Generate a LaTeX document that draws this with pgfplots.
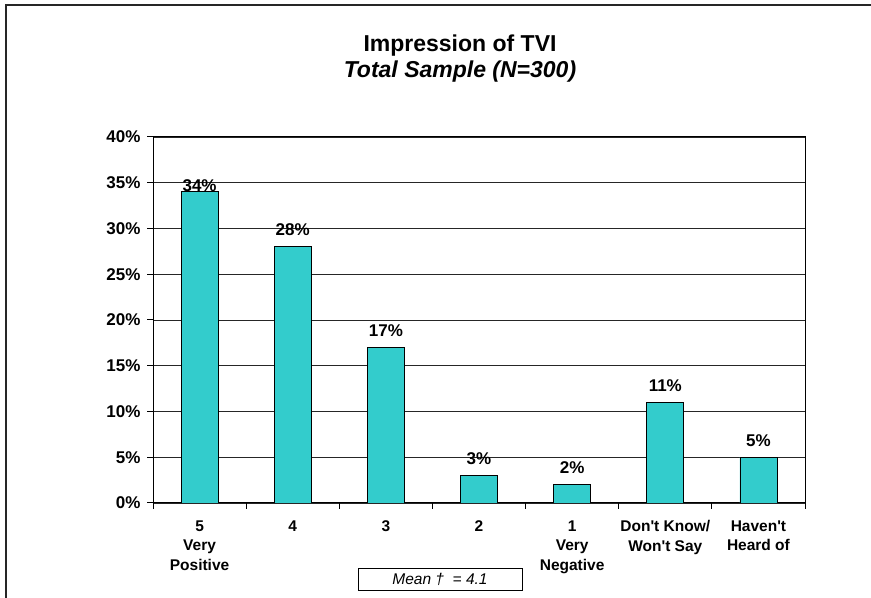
\documentclass[border=0pt]{standalone}
\usepackage{fontspec}
\setmainfont{Liberation Sans}
\usepackage{pgfplots}
\usepackage{pgfplotstable}
\pgfplotsset{compat=1.18}
\definecolor{barcyan}{HTML}{33CCCC}
\newcommand\lab{\fontsize{15.5bp}{19.5bp}\selectfont\bfseries}
\newcommand\pct{\fontsize{17bp}{20bp}\selectfont\bfseries}
\pgfplotstableread{
x y off
1 34 -3.5
2 28 7
3 17 7
4 3 7
5 2 7
6 11 7
7 5 7
}\impression
\begin{document}
\begin{tikzpicture}
\useasboundingbox (0,0) rectangle (871bp,598bp);
\fill[white] (0,0) rectangle (871bp,598bp);
\draw[line width=1.5bp, black!85] (6bp,0) -- (6bp,593bp) -- (871bp,593bp);
\node[anchor=base, inner sep=0pt, font=\fontsize{23bp}{27bp}\selectfont\bfseries] at (460bp,546bp) {Impression of TVI};
\node[anchor=base, inner sep=0pt, font=\fontsize{23bp}{27bp}\selectfont\bfseries\itshape] at (460bp,520bp) {Total Sample (N=300)};
\begin{axis}[
  at={(153bp,95bp)}, anchor=south west, width=652bp, height=366bp, scale only axis,
  xmin=0.5, xmax=7.5, ymin=0, ymax=40,
  axis line style={black, line width=1bp},
  ybar, bar width=37bp,
  ytick={0,5,...,40},
  yticklabel={\pgfmathprintnumber{\tick}\%},
  /pgf/number format/assume math mode=true,
  ymajorgrids, major grid style={black!85, line width=0.8bp},
  tick align=outside, major tick length=6bp, tick style={black, line width=1bp},
  xtick pos=bottom, ytick pos=left,
  xtick={0.5,1.5,2.5,3.5,4.5,5.5,6.5,7.5}, xticklabels={},
  extra x ticks={1,2,3,4,5,6,7},
  extra x tick labels={{5\\Very\\Positive},4,3,2,{1\\Very\\Negative},{Don\textquotesingle t Know/\\Won\textquotesingle t Say},{Haven\textquotesingle t\\Heard of}},
  extra x tick style={major tick length=0pt},
  x tick label style={font=\lab, align=center, anchor=north, yshift=-14bp},
  y tick label style={font=\pct, xshift=-3bp},
  nodes near coords={\pgfmathprintnumber{\pgfplotspointmeta}\%},
  visualization depends on={\thisrow{off}\as\off},
  nodes near coords style={font=\pct, anchor=south, yshift=\off bp},
]
\addplot[fill=barcyan, draw=black, line width=0.8bp] table[x=x, y=y] {\impression};
\end{axis}
\node[draw, line width=0.8bp, fill=white, minimum width=164bp, minimum height=22bp, inner sep=0pt, font=\fontsize{15.5bp}{18bp}\selectfont\itshape] at (440bp,19bp) {Mean †\ \ = 4.1};
\end{tikzpicture}
\end{document}
